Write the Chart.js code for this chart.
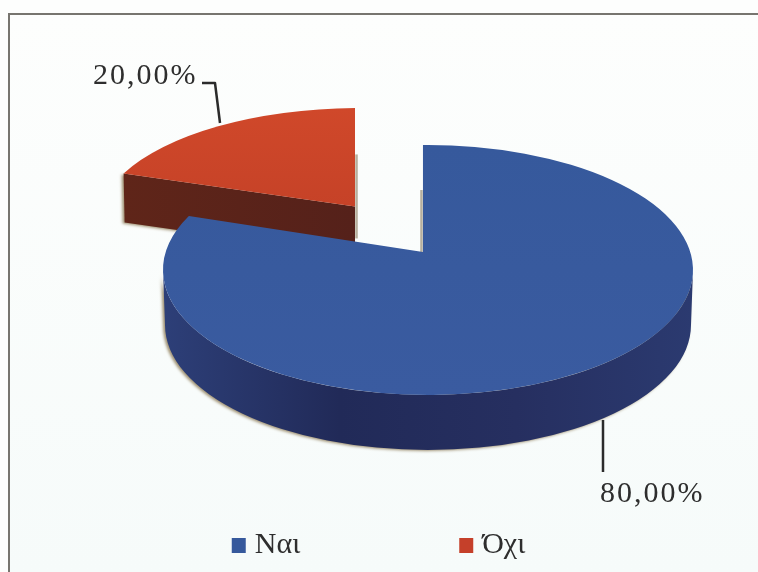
<!DOCTYPE html>
<html><head><meta charset="utf-8">
<style>html,body{margin:0;padding:0;background:#fdfefd}canvas{display:block}</style>
<script src="https://cdn.jsdelivr.net/npm/chart.js@4/dist/chart.umd.min.js"></script>
</head><body><canvas id="c" width="758" height="572"></canvas>
<script>
const categories = ['Ναι', 'Όχι'];
const seriesValues = [80, 20];
const sliceColors = ['#36599c', '#c5402a'];

const look = [
  {cx:428, cy:270, rx:265, ry:125, depth:55, bottomRx:263,
   top:['#36599c','#3a5ba0'], wall:['#2d3f78','#212a58','#262f60','#2b3a70'],
   label:{x:600, y:502}, leader:[[603,420],[603,472]]},
  {cx:360, cy:223, rx:262, ry:115, depth:49, bottomRx:260,
   top:['#d0482a','#b83a24'], wall:['#5f2519','#55211a'],
   label:{x:93, y:84}, leader:[[220,123],[215,83],[202,83]]}
];
const apexN = {x:-0.019, y:-0.144};

function rim(theta){ // point of the unit circle hit by a ray leaving the apex at clockwise angle theta from 12 o'clock
  const dx=Math.sin(theta), dy=-Math.cos(theta);
  const b=apexN.x*dx+apexN.y*dy, c=apexN.x*apexN.x+apexN.y*apexN.y-1;
  const t=-b+Math.sqrt(b*b-c);
  return {x:apexN.x+t*dx, y:apexN.y+t*dy};
}
function drawSlice(ctx, arc, g){
  const s=arc.startAngle+Math.PI/2, e=arc.endAngle+Math.PI/2;
  const p0=rim(s), p1=rim(e);
  const px=p=>({x:g.cx+p.x*g.rx, y:g.cy+p.y*g.ry});
  const A=px(apexN), S=px(p0), E=px(p1);
  const a0=Math.atan2(p0.y,p0.x), a1=Math.atan2(p1.y,p1.x);
  const big=(arc.endAngle-arc.startAngle)>Math.PI;

  // soft tan shade along the straight vertical cut
  ctx.save();
  ctx.strokeStyle='rgba(125,112,80,.55)'; ctx.lineWidth=2.5;
  ctx.beginPath();
  if(big){ ctx.moveTo(A.x-1.5,A.y-62); ctx.lineTo(A.x-1.5,A.y); }
  else { ctx.moveTo(A.x+1.5,A.y-52); ctx.lineTo(A.x+1.5,A.y+32); }
  ctx.stroke(); ctx.restore();

  ctx.save();
  ctx.shadowColor='rgba(130,110,70,.75)'; ctx.shadowBlur=3; ctx.shadowOffsetX=-2; ctx.shadowOffsetY=1;
  if(big){
    const wg=ctx.createLinearGradient(g.cx-g.rx,0,g.cx+g.rx,0);
    g.wall.forEach((c,i)=>wg.addColorStop(i/(g.wall.length-1),c));
    ctx.fillStyle=wg;
    ctx.beginPath();
    ctx.ellipse(g.cx,g.cy,g.rx,g.ry,0,0,Math.PI);
    ctx.ellipse(g.cx,g.cy+g.depth,g.bottomRx,g.ry,0,Math.PI,0,true);
    ctx.closePath(); ctx.fill();
  } else {
    const wg=ctx.createLinearGradient(S.x,0,A.x,0);
    wg.addColorStop(0,g.wall[0]); wg.addColorStop(1,g.wall[1]);
    ctx.fillStyle=wg;
    ctx.beginPath();
    ctx.moveTo(S.x,S.y); ctx.lineTo(A.x,A.y); ctx.lineTo(A.x,A.y+g.depth); ctx.lineTo(S.x+1,S.y+g.depth);
    ctx.closePath(); ctx.fill();
  }
  ctx.restore();

  const tg=ctx.createLinearGradient(0,g.cy-g.ry,0,g.cy+g.ry);
  tg.addColorStop(0,g.top[0]); tg.addColorStop(1,g.top[1]);
  ctx.fillStyle=tg;
  ctx.beginPath();
  ctx.moveTo(A.x,A.y); ctx.lineTo(S.x,S.y);
  ctx.ellipse(g.cx,g.cy,g.rx,g.ry,0,a0,a1,false);
  ctx.closePath(); ctx.fill();
}

const pie3d = {
  id:'pie3d',
  beforeDraw(chart){
    const ctx=chart.ctx;
    ctx.save();
    const bg=ctx.createLinearGradient(0,14,0,572);
    bg.addColorStop(0,'#fdfefd'); bg.addColorStop(1,'#f6fbfa');
    ctx.fillStyle=bg; ctx.fillRect(9,14,749,558);
    ctx.strokeStyle='#77756f'; ctx.lineWidth=2;
    ctx.beginPath(); ctx.moveTo(9,572); ctx.lineTo(9,14); ctx.lineTo(758,14); ctx.stroke();
    ctx.restore();
  },
  beforeDatasetsDraw(chart){
    const ctx=chart.ctx, arcs=chart.getDatasetMeta(0).data, ds=chart.data.datasets[0].data;
    // the detached slice sits behind the big one
    [1,0].forEach(i=>drawSlice(ctx,arcs[i],look[i]));
    ctx.save();
    ctx.strokeStyle='#2b2b2b'; ctx.lineWidth=2.5; ctx.lineJoin='round';
    ctx.fillStyle='#2e2e2e'; ctx.font='30px "Liberation Serif"'; ctx.letterSpacing='2px';
    ctx.textBaseline='alphabetic';
    [1,0].forEach(i=>{
      const g=look[i];
      ctx.beginPath();
      g.leader.forEach((p,k)=>k?ctx.lineTo(p[0],p[1]):ctx.moveTo(p[0],p[1]));
      ctx.stroke();
      ctx.fillText(ds[i].toFixed(2).replace('.',',')+'%',g.label.x,g.label.y);
    });
    ctx.restore();
    return false;
  }
};

function swatch(color){ // wide transparent sprite with the square near its right side, so the label sits close to it
  const k=document.createElement('canvas'); k.width=21; k.height=15;
  const x=k.getContext('2d'); x.fillStyle=color; x.fillRect(6,0,14,15);
  return k;
}

new Chart(document.getElementById('c'),{
  type:'pie',
  data:{labels:categories,datasets:[{data:seriesValues,backgroundColor:sliceColors,borderWidth:0}]},
  plugins:[pie3d],
  options:{
    responsive:false,animation:false,
    layout:{padding:{bottom:2}},
    plugins:{
      title:{display:false},tooltip:{enabled:false},
      legend:{
        display:true,position:'bottom',
        labels:{
          usePointStyle:true,pointStyleWidth:7,boxHeight:15,padding:160,
          color:'#2e2e2e',font:{family:'"Liberation Serif"',size:30},
          generateLabels(chart){
            return chart.data.labels.map((t,i)=>({text:t,fontColor:'#2e2e2e',pointStyle:swatch(sliceColors[i]),fillStyle:sliceColors[i],strokeStyle:sliceColors[i],lineWidth:0,index:i}));
          }
        }
      }
    }
  }
});
</script></body></html>
